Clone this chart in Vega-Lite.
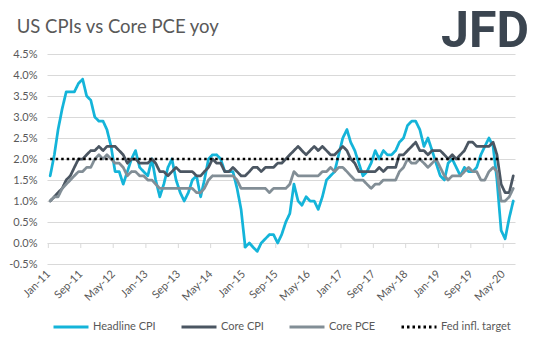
{
  "$schema": "https://vega.github.io/schema/vega-lite/v6.json",
  "width": 468,
  "height": 210,
  "padding": {"top": 6, "left": 8, "right": 10, "bottom": 5},
  "background": "white",
  "title": {"text": "US CPIs vs Core PCE yoy", "anchor": "start", "frame": "bounds", "font": "Lato", "fontSize": 18.5, "fontWeight": "normal", "color": "#595959", "dy": 34, "dx": 8},
  "datasets": {
    "ticks": [{"d":"2011-01-01"},{"d":"2011-09-01"},{"d":"2012-05-01"},{"d":"2013-01-01"},{"d":"2013-09-01"},{"d":"2014-05-01"},{"d":"2015-01-01"},{"d":"2015-09-01"},{"d":"2016-05-01"},{"d":"2017-01-01"},{"d":"2017-09-01"},{"d":"2018-05-01"},{"d":"2019-01-01"},{"d":"2019-09-01"},{"d":"2020-05-01"}],
    "cpi": [
      {"d":"2011-01-15","h":1.6,"c":1.0,"p":1.0,"f":2},
      {"d":"2011-02-15","h":2.1,"c":1.1,"p":1.1,"f":2},
      {"d":"2011-03-15","h":2.7,"c":1.2,"p":1.1,"f":2},
      {"d":"2011-04-15","h":3.2,"c":1.3,"p":1.3,"f":2},
      {"d":"2011-05-15","h":3.6,"c":1.5,"p":1.4,"f":2},
      {"d":"2011-06-15","h":3.6,"c":1.6,"p":1.5,"f":2},
      {"d":"2011-07-15","h":3.6,"c":1.8,"p":1.6,"f":2},
      {"d":"2011-08-15","h":3.8,"c":2.0,"p":1.7,"f":2},
      {"d":"2011-09-15","h":3.9,"c":2.0,"p":1.7,"f":2},
      {"d":"2011-10-15","h":3.5,"c":2.1,"p":1.8,"f":2},
      {"d":"2011-11-15","h":3.4,"c":2.2,"p":1.8,"f":2},
      {"d":"2011-12-15","h":3.0,"c":2.2,"p":2.0,"f":2},
      {"d":"2012-01-15","h":2.9,"c":2.3,"p":2.1,"f":2},
      {"d":"2012-02-15","h":2.9,"c":2.2,"p":2.0,"f":2},
      {"d":"2012-03-15","h":2.7,"c":2.3,"p":2.1,"f":2},
      {"d":"2012-04-15","h":2.3,"c":2.3,"p":2.0,"f":2},
      {"d":"2012-05-15","h":1.7,"c":2.3,"p":1.9,"f":2},
      {"d":"2012-06-15","h":1.7,"c":2.2,"p":1.9,"f":2},
      {"d":"2012-07-15","h":1.4,"c":2.1,"p":1.8,"f":2},
      {"d":"2012-08-15","h":1.7,"c":1.9,"p":1.6,"f":2},
      {"d":"2012-09-15","h":2.0,"c":2.0,"p":1.7,"f":2},
      {"d":"2012-10-15","h":2.2,"c":2.0,"p":1.7,"f":2},
      {"d":"2012-11-15","h":1.8,"c":1.9,"p":1.6,"f":2},
      {"d":"2012-12-15","h":1.7,"c":1.9,"p":1.6,"f":2},
      {"d":"2013-01-15","h":1.6,"c":1.9,"p":1.5,"f":2},
      {"d":"2013-02-15","h":2.0,"c":2.0,"p":1.5,"f":2},
      {"d":"2013-03-15","h":1.5,"c":1.9,"p":1.4,"f":2},
      {"d":"2013-04-15","h":1.1,"c":1.7,"p":1.3,"f":2},
      {"d":"2013-05-15","h":1.4,"c":1.7,"p":1.3,"f":2},
      {"d":"2013-06-15","h":1.8,"c":1.6,"p":1.3,"f":2},
      {"d":"2013-07-15","h":2.0,"c":1.7,"p":1.3,"f":2},
      {"d":"2013-08-15","h":1.5,"c":1.8,"p":1.3,"f":2},
      {"d":"2013-09-15","h":1.2,"c":1.7,"p":1.3,"f":2},
      {"d":"2013-10-15","h":1.0,"c":1.7,"p":1.3,"f":2},
      {"d":"2013-11-15","h":1.2,"c":1.7,"p":1.3,"f":2},
      {"d":"2013-12-15","h":1.5,"c":1.7,"p":1.3,"f":2},
      {"d":"2014-01-15","h":1.6,"c":1.6,"p":1.2,"f":2},
      {"d":"2014-02-15","h":1.1,"c":1.6,"p":1.2,"f":2},
      {"d":"2014-03-15","h":1.5,"c":1.7,"p":1.3,"f":2},
      {"d":"2014-04-15","h":2.0,"c":1.8,"p":1.5,"f":2},
      {"d":"2014-05-15","h":2.1,"c":2.0,"p":1.6,"f":2},
      {"d":"2014-06-15","h":2.1,"c":1.9,"p":1.6,"f":2},
      {"d":"2014-07-15","h":2.0,"c":1.9,"p":1.6,"f":2},
      {"d":"2014-08-15","h":1.7,"c":1.7,"p":1.6,"f":2},
      {"d":"2014-09-15","h":1.7,"c":1.7,"p":1.6,"f":2},
      {"d":"2014-10-15","h":1.7,"c":1.8,"p":1.6,"f":2},
      {"d":"2014-11-15","h":1.3,"c":1.7,"p":1.5,"f":2},
      {"d":"2014-12-15","h":0.8,"c":1.6,"p":1.3,"f":2},
      {"d":"2015-01-15","h":-0.1,"c":1.6,"p":1.3,"f":2},
      {"d":"2015-02-15","h":0.0,"c":1.7,"p":1.3,"f":2},
      {"d":"2015-03-15","h":-0.1,"c":1.8,"p":1.3,"f":2},
      {"d":"2015-04-15","h":-0.2,"c":1.8,"p":1.3,"f":2},
      {"d":"2015-05-15","h":0.0,"c":1.7,"p":1.3,"f":2},
      {"d":"2015-06-15","h":0.1,"c":1.8,"p":1.3,"f":2},
      {"d":"2015-07-15","h":0.2,"c":1.8,"p":1.2,"f":2},
      {"d":"2015-08-15","h":0.2,"c":1.8,"p":1.3,"f":2},
      {"d":"2015-09-15","h":0.0,"c":1.9,"p":1.3,"f":2},
      {"d":"2015-10-15","h":0.2,"c":1.9,"p":1.3,"f":2},
      {"d":"2015-11-15","h":0.5,"c":2.0,"p":1.3,"f":2},
      {"d":"2015-12-15","h":0.7,"c":2.1,"p":1.4,"f":2},
      {"d":"2016-01-15","h":1.4,"c":2.2,"p":1.7,"f":2},
      {"d":"2016-02-15","h":1.0,"c":2.3,"p":1.6,"f":2},
      {"d":"2016-03-15","h":0.9,"c":2.2,"p":1.6,"f":2},
      {"d":"2016-04-15","h":1.1,"c":2.1,"p":1.6,"f":2},
      {"d":"2016-05-15","h":1.0,"c":2.2,"p":1.6,"f":2},
      {"d":"2016-06-15","h":1.0,"c":2.3,"p":1.6,"f":2},
      {"d":"2016-07-15","h":0.8,"c":2.2,"p":1.6,"f":2},
      {"d":"2016-08-15","h":1.1,"c":2.3,"p":1.7,"f":2},
      {"d":"2016-09-15","h":1.5,"c":2.2,"p":1.7,"f":2},
      {"d":"2016-10-15","h":1.6,"c":2.1,"p":1.8,"f":2},
      {"d":"2016-11-15","h":1.7,"c":2.1,"p":1.7,"f":2},
      {"d":"2016-12-15","h":2.1,"c":2.2,"p":1.8,"f":2},
      {"d":"2017-01-15","h":2.5,"c":2.3,"p":1.8,"f":2},
      {"d":"2017-02-15","h":2.7,"c":2.2,"p":1.7,"f":2},
      {"d":"2017-03-15","h":2.4,"c":2.0,"p":1.6,"f":2},
      {"d":"2017-04-15","h":2.2,"c":1.9,"p":1.5,"f":2},
      {"d":"2017-05-15","h":1.9,"c":1.7,"p":1.5,"f":2},
      {"d":"2017-06-15","h":1.6,"c":1.7,"p":1.5,"f":2},
      {"d":"2017-07-15","h":1.7,"c":1.7,"p":1.4,"f":2},
      {"d":"2017-08-15","h":1.9,"c":1.7,"p":1.3,"f":2},
      {"d":"2017-09-15","h":2.2,"c":1.7,"p":1.4,"f":2},
      {"d":"2017-10-15","h":2.0,"c":1.8,"p":1.4,"f":2},
      {"d":"2017-11-15","h":2.2,"c":1.7,"p":1.5,"f":2},
      {"d":"2017-12-15","h":2.1,"c":1.8,"p":1.5,"f":2},
      {"d":"2018-01-15","h":2.1,"c":1.8,"p":1.5,"f":2},
      {"d":"2018-02-15","h":2.2,"c":1.8,"p":1.5,"f":2},
      {"d":"2018-03-15","h":2.4,"c":2.1,"p":1.7,"f":2},
      {"d":"2018-04-15","h":2.5,"c":2.1,"p":1.8,"f":2},
      {"d":"2018-05-15","h":2.8,"c":2.2,"p":2.0,"f":2},
      {"d":"2018-06-15","h":2.9,"c":2.3,"p":1.9,"f":2},
      {"d":"2018-07-15","h":2.9,"c":2.4,"p":1.9,"f":2},
      {"d":"2018-08-15","h":2.7,"c":2.2,"p":2.0,"f":2},
      {"d":"2018-09-15","h":2.3,"c":2.2,"p":1.9,"f":2},
      {"d":"2018-10-15","h":2.5,"c":2.1,"p":1.8,"f":2},
      {"d":"2018-11-15","h":2.2,"c":2.2,"p":1.9,"f":2},
      {"d":"2018-12-15","h":1.9,"c":2.2,"p":2.0,"f":2},
      {"d":"2019-01-15","h":1.6,"c":2.2,"p":1.8,"f":2},
      {"d":"2019-02-15","h":1.5,"c":2.1,"p":1.6,"f":2},
      {"d":"2019-03-15","h":1.9,"c":2.0,"p":1.5,"f":2},
      {"d":"2019-04-15","h":2.0,"c":2.1,"p":1.6,"f":2},
      {"d":"2019-05-15","h":1.8,"c":2.0,"p":1.6,"f":2},
      {"d":"2019-06-15","h":1.6,"c":2.1,"p":1.6,"f":2},
      {"d":"2019-07-15","h":1.8,"c":2.2,"p":1.7,"f":2},
      {"d":"2019-08-15","h":1.7,"c":2.4,"p":1.8,"f":2},
      {"d":"2019-09-15","h":1.7,"c":2.4,"p":1.7,"f":2},
      {"d":"2019-10-15","h":1.8,"c":2.3,"p":1.7,"f":2},
      {"d":"2019-11-15","h":2.1,"c":2.3,"p":1.5,"f":2},
      {"d":"2019-12-15","h":2.3,"c":2.3,"p":1.5,"f":2},
      {"d":"2020-01-15","h":2.5,"c":2.3,"p":1.7,"f":2},
      {"d":"2020-02-15","h":2.3,"c":2.4,"p":1.8,"f":2},
      {"d":"2020-03-15","h":1.5,"c":2.1,"p":1.7,"f":2},
      {"d":"2020-04-15","h":0.3,"c":1.4,"p":1.0,"f":2},
      {"d":"2020-05-15","h":0.1,"c":1.2,"p":1.0},
      {"d":"2020-06-15","h":0.6,"c":1.2,"p":1.1},
      {"d":"2020-07-15","h":1.0,"c":1.6,"p":1.3}
    ]
  },
  "data": {"name": "cpi"},
  "layer": [
    {
      "data": {"name": "ticks"},
      "mark": {"type": "rule", "color": "#D9D9D9", "strokeWidth": 1},
      "encoding": {
        "x": {"field": "d", "type": "temporal"},
        "y": {"datum": 0},
        "y2": {"datum": -0.12}
      }
    },
    {
      "transform": [{"fold": ["h", "c", "p"], "as": ["k", "v"]}],
      "mark": {"type": "line", "strokeWidth": 2.75, "strokeJoin": "round", "strokeCap": "round"},
      "encoding": {
        "x": {
          "field": "d", "type": "temporal",
          "scale": {"type": "utc", "domain": [{"year": 2010, "month": 12, "date": 22, "utc": true}, {"year": 2020, "month": 7, "date": 28, "utc": true}]},
          "axis": {
            "title": null, "grid": false, "domain": false, "ticks": false, "tickSize": 0, "tickCount": 40,
            "format": "%b-%y", "labelAngle": -45, "labelAlign": "right", "labelBaseline": "middle",
            "labelPadding": 8, "labelOverlap": false, "labelFlush": false, "labelBound": false, "labelSeparation": 0,
            "values": [
              {"year": 2011, "month": 1, "date": 1, "utc": true},
              {"year": 2011, "month": 9, "date": 1, "utc": true},
              {"year": 2012, "month": 5, "date": 1, "utc": true},
              {"year": 2013, "month": 1, "date": 1, "utc": true},
              {"year": 2013, "month": 9, "date": 1, "utc": true},
              {"year": 2014, "month": 5, "date": 1, "utc": true},
              {"year": 2015, "month": 1, "date": 1, "utc": true},
              {"year": 2015, "month": 9, "date": 1, "utc": true},
              {"year": 2016, "month": 5, "date": 1, "utc": true},
              {"year": 2017, "month": 1, "date": 1, "utc": true},
              {"year": 2017, "month": 9, "date": 1, "utc": true},
              {"year": 2018, "month": 5, "date": 1, "utc": true},
              {"year": 2019, "month": 1, "date": 1, "utc": true},
              {"year": 2019, "month": 9, "date": 1, "utc": true},
              {"year": 2020, "month": 5, "date": 1, "utc": true}
            ]
          }
        },
        "y": {
          "field": "v", "type": "quantitative",
          "scale": {"domain": [-0.5, 4.5], "nice": false, "zero": false},
          "axis": {
            "title": null, "grid": true, "domain": false, "ticks": false, "tickSize": 0, "tickCount": 40,
            "labelPadding": 10, "labelOverlap": false, "labelSeparation": 0,
            "values": [-0.5, 0, 0.5, 1, 1.5, 2, 2.5, 3, 3.5, 4, 4.5],
            "labelExpr": "(datum.value < 0 ? '-' : '') + format(abs(datum.value), '.1f') + '%'"
          }
        },
        "color": {
          "field": "k", "type": "nominal",
          "scale": {"domain": ["h", "c", "p", "f"], "range": ["#14B4D9", "#4B5662", "#828E96", "#000000"]},
          "legend": {"title": null, "labelExpr": "datum.label == 'h' ? 'Headline CPI' : datum.label == 'c' ? 'Core CPI' : datum.label == 'p' ? 'Core PCE' : 'Fed infl. target'"}
        },
        "strokeDash": {
          "field": "k", "type": "nominal",
          "scale": {"domain": ["h", "c", "p", "f"], "range": [[1, 0], [1, 0], [1, 0], [2.5, 3]]},
          "legend": {"title": null, "labelExpr": "datum.label == 'h' ? 'Headline CPI' : datum.label == 'c' ? 'Core CPI' : datum.label == 'p' ? 'Core PCE' : 'Fed infl. target'"}
        }
      }
    },
    {
      "transform": [{"filter": "datum.f != null"}, {"fold": ["f"], "as": ["k", "v"]}],
      "mark": {"type": "line", "strokeWidth": 2.5},
      "encoding": {
        "x": {"field": "d", "type": "temporal"},
        "y": {"field": "v", "type": "quantitative"},
        "color": {"field": "k", "type": "nominal"},
        "strokeDash": {"field": "k", "type": "nominal"}
      }
    },
    {
      "data": {"values": [{"logo": "JFD"}]},
      "mark": {"type": "text", "font": "Roboto", "fontWeight": "bold", "fontSize": 50, "color": "#3B4550", "align": "center", "baseline": "alphabetic", "clip": false},
      "encoding": {
        "text": {"field": "logo"},
        "x": {"datum": {"year": 2019, "month": 12, "date": 16, "utc": true}, "type": "temporal"},
        "y": {"datum": 4.67}
      }
    }
  ],
  "config": {
    "view": {"stroke": null},
    "font": "Lato",
    "axis": {"labelFont": "Lato", "labelFontSize": 11, "labelColor": "#595959", "gridColor": "#D9D9D9", "gridWidth": 1, "labelOverlap": false},
    "legend": {
      "orient": "bottom", "direction": "horizontal", "symbolType": "stroke", "symbolSize": 1225, "symbolStrokeWidth": 3,
      "labelFont": "Lato", "labelFontSize": 11, "labelColor": "#595959", "columnPadding": 19, "labelOffset": 3, "offset": 5,
      "layout": {"bottom": {"anchor": "middle"}}
    }
  }
}
